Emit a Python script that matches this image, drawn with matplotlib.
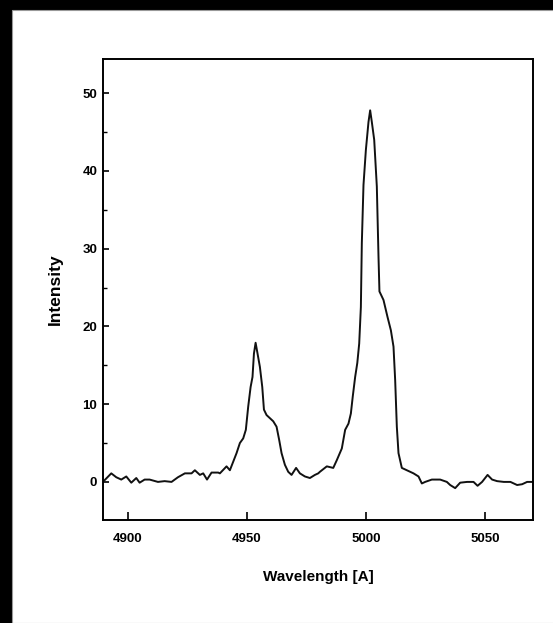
import matplotlib.pyplot as plt
from matplotlib.patches import Rectangle
from matplotlib.ticker import MultipleLocator

# Spectrum
wavelength = [4889.5, 4893.0, 4895.1, 4897.2, 4899.3, 4901.4, 4903.5, 4904.9, 4907.0, 4909.1,
              4912.6, 4915.4, 4918.3, 4921.0, 4923.9, 4926.7, 4928.1, 4930.2, 4931.6, 4933.2,
              4935.1, 4937.9, 4938.6, 4941.4, 4942.8, 4944.2, 4945.6, 4947.0, 4948.4, 4949.5,
              4950.5, 4951.5, 4952.3, 4952.9, 4953.6, 4954.3, 4955.4, 4956.4, 4957.1, 4958.2,
              4959.6, 4961.0, 4962.4, 4963.5, 4964.5, 4965.9, 4967.3, 4968.7, 4970.6, 4972.2,
              4974.3, 4976.4, 4978.5, 4979.9, 4980.6, 4983.5, 4986.2, 4987.7, 4989.8, 4991.2,
              4992.6, 4993.6, 4994.4, 4995.4, 4996.3, 4997.1, 4997.8, 4998.2, 4998.9, 4999.9,
              5001.0, 5001.7, 5002.4, 5003.4, 5004.5, 5005.2, 5005.6, 5007.3, 5009.0, 5010.4,
              5011.5, 5012.2, 5012.9, 5013.6, 5015.0, 5017.1, 5019.9, 5022.0, 5023.4, 5024.8,
              5027.6, 5031.1, 5033.9, 5035.3, 5037.4, 5039.5, 5042.4, 5045.1, 5046.8, 5048.7,
              5051.0, 5052.9, 5055.0, 5057.8, 5060.6, 5063.4, 5065.5, 5067.6, 5070.1]
intensity = [0.0, 1.1, 0.6, 0.3, 0.7, -0.1, 0.5, -0.1, 0.3, 0.3,
             0.0, 0.1, 0.0, 0.6, 1.1, 1.1, 1.5, 0.9, 1.1, 0.3,
             1.2, 1.2, 1.1, 2.0, 1.5, 2.6, 3.7, 5.0, 5.6, 6.7,
             9.7, 12.2, 13.5, 16.5, 17.9, 16.7, 14.8, 12.2, 9.3, 8.6,
             8.2, 7.8, 7.1, 5.4, 3.7, 2.2, 1.3, 0.9, 1.8, 1.1,
             0.7, 0.5, 0.9, 1.1, 1.3, 2.0, 1.8, 2.8, 4.3, 6.7,
             7.5, 8.8, 11.0, 13.5, 15.3, 17.8, 22.5, 30.7, 38.2, 42.7,
             46.3, 47.8, 46.3, 44.0, 38.0, 29.0, 24.5, 23.4, 21.2, 19.5,
             17.4, 13.1, 7.1, 3.7, 1.8, 1.5, 1.1, 0.7, -0.2, 0.0,
             0.3, 0.3, 0.0, -0.4, -0.8, -0.1, 0.0, 0.0, -0.5, 0.0,
             0.9, 0.3, 0.1, 0.0, 0.0, -0.4, -0.3, 0.0, 0.0]

x_ticks = [4900, 4950, 5000, 5050]
y_ticks = [0, 10, 20, 30, 40, 50]

plt.rcParams['font.family'] = ['Liberation Sans', 'DejaVu Sans']

fig = plt.figure(figsize=(5.53, 6.23), dpi=100, facecolor='black')
# white page inside the black frame
fig.patches.append(Rectangle((12 / 553, 0), 1, 1 - 10 / 623, transform=fig.transFigure,
                             facecolor='white', edgecolor='#999999', linewidth=0.8, zorder=-10))

ax = fig.add_axes([102.7 / 553, 1 - 520 / 623, 430.6 / 553, 461 / 623])
ax.set_zorder(5)
ax.set_facecolor('white')
ax.plot(wavelength, intensity, color='#111111', linewidth=1.4)

ax.set_xlim(4889.4, 5070.2)
ax.set_ylim(-4.9, 54.4)
ax.set_xticks(x_ticks)
ax.set_yticks(y_ticks)
ax.yaxis.set_minor_locator(MultipleLocator(5))

for s in ax.spines.values():
    s.set_linewidth(1.4)
ax.tick_params(axis='x', direction='in', length=6, width=1.2, labelsize=9.5, pad=9)
ax.tick_params(axis='y', direction='in', length=4, width=1.2, labelsize=9.5, pad=4)
ax.tick_params(axis='y', which='minor', direction='in', length=3, width=1.0)
for lab in ax.get_xticklabels() + ax.get_yticklabels():
    lab.set_fontweight('bold')

ax.set_xlabel('Wavelength [A]', fontsize=11, fontweight='bold', labelpad=18)
ax.set_ylabel('Intensity', fontsize=12.5, fontweight='bold', labelpad=14)

fig.savefig('out.png', dpi=100, facecolor='black')
